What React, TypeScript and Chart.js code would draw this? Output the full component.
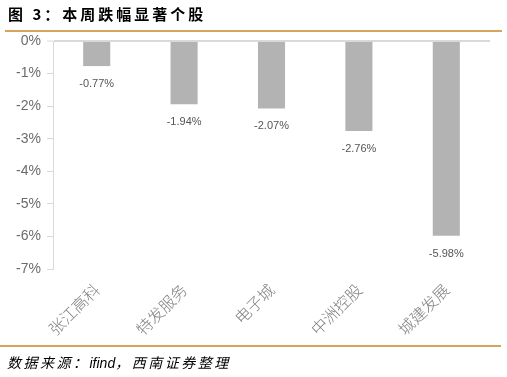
import React, { useEffect, useRef } from "react";
import { Chart, registerables } from "chart.js";

Chart.register(...registerables);

const categories = ["张江高科", "特发服务", "电子城", "中洲控股", "城建发展"];
const values = [-0.77, -1.94, -2.07, -2.76, -5.98];
const yMin = -7;
const yMax = 0;

const title = "图 3：本周跌幅显著个股";
const sourceParts = ["数据来源：", "ifind", "，西南证券整理"];

const valueLabelPlugin = {
  id: "valueLabels",
  afterDatasetsDraw(chart: any) {
    const { ctx } = chart;
    const meta = chart.getDatasetMeta(0);
    ctx.save();
    ctx.font = "11px 'Liberation Sans', Arial, sans-serif";
    ctx.fillStyle = "#555555";
    ctx.textAlign = "center";
    ctx.textBaseline = "middle";
    meta.data.forEach((bar: any, i: number) => {
      const v = values[i];
      ctx.fillText(v.toFixed(2) + "%", bar.x, bar.y + 18);
    });
    ctx.restore();
  },
};

export default function App() {
  const ref = useRef<HTMLCanvasElement | null>(null);
  useEffect(() => {
    document.body.style.margin = "0";
    if (!ref.current) return;
    const chart = new Chart(ref.current, {
      type: "bar",
      data: {
        labels: categories,
        datasets: [
          {
            data: values,
            backgroundColor: "#b3b3b3",
            borderWidth: 0,
            barPercentage: 0.31,
            categoryPercentage: 1,
          },
        ],
      },
      options: {
        animation: false,
        responsive: false,
        maintainAspectRatio: false,
        layout: { padding: { left: 0, top: 41, right: 17, bottom: 0 } },
        plugins: {
          legend: { display: false },
          tooltip: { enabled: false },
        },
        scales: {
          x: {
            grid: { display: false },
            border: { display: false },
            ticks: {
              maxRotation: 45,
              minRotation: 45,
              padding: 3,
              color: "#808080",
              font: { size: 16, family: "'Noto Sans CJK SC', sans-serif", weight: 300 as any },
            },
            afterFit(scale: any) {
              scale.height = 108;
            },
          },
          y: {
            min: yMin,
            max: yMax,
            ticks: {
              stepSize: 1,
              padding: 6,
              color: "#6b6b6b",
              font: { size: 14, family: "'Liberation Sans', Arial, sans-serif" },
              callback: (v: any) => v + "%",
            },
            grid: {
              color: (ctx: any) => (ctx.tick && ctx.tick.value === 0 ? "#d9d9d9" : "rgba(0,0,0,0)"),
              lineWidth: (ctx: any) => (ctx.tick && ctx.tick.value === 0 ? 2 : 1),
              tickColor: "#d9d9d9",
              tickLength: 6,
              tickWidth: 1,
            },
            border: { display: true, color: "#d9d9d9", width: 1 },
            afterFit(scale: any) {
              scale.width = 53;
            },
          },
        },
      },
      plugins: [valueLabelPlugin],
    });
    return () => chart.destroy();
  }, []);

  return (
    <div style={{ position: "relative", width: 507, height: 377, background: "#fff", overflow: "hidden" }}>
      <canvas ref={ref} width={507} height={377} style={{ position: "absolute", left: 0, top: 0 }} />
      <div
        style={{
          position: "absolute",
          left: 8,
          top: 3,
          fontFamily: "'Noto Sans CJK SC', sans-serif",
          fontWeight: 700,
          fontSize: 15,
          lineHeight: "22px",
          color: "#000",
          letterSpacing: 3,
          whiteSpace: "pre",
        }}
      >
        {title}
      </div>
      <div style={{ position: "absolute", left: 5, top: 30, width: 497, height: 2, background: "#d4a55a" }} />
      <div style={{ position: "absolute", left: 0, top: 345, width: 501, height: 2, background: "#d4a55a" }} />
      <div
        style={{
          position: "absolute",
          left: 7,
          top: 351,
          fontFamily: "'Noto Sans CJK SC', sans-serif",
          fontStyle: "italic",
          fontSize: 14,
          lineHeight: "22px",
          color: "#000",
          whiteSpace: "pre",
        }}
      >
        <span style={{ letterSpacing: 2.5 }}>{sourceParts[0]}</span>
        <span style={{ fontFamily: "'Liberation Sans', Arial, sans-serif", letterSpacing: 0 }}>{sourceParts[1]}</span>
        <span style={{ letterSpacing: 2.5 }}>{sourceParts[2]}</span>
      </div>
    </div>
  );
}
